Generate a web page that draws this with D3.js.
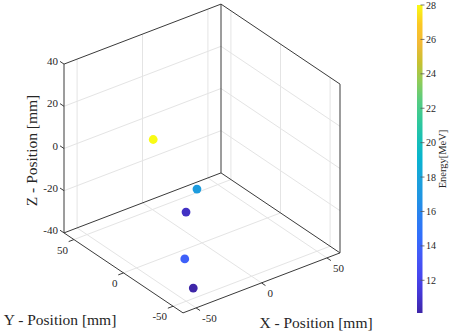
<!DOCTYPE html>
<html lang="en">
<head>
<script src="https://d3js.org/d3.v7.min.js"></script>
<style>body{margin:0;background:#fff} text{font-family:'Liberation Serif','DejaVu Serif',serif}</style>
</head>
<body>
<script>
// hit positions [mm] and deposited energy [MeV]
const xPos = [-10, 6, -16, -20, -37];
const yPos = [36, 13, -5, -9, -40];
const zPos = [0, -20, -20, -40, -40];
const energy = [28, 17.4, 10.8, 13.8, 10.1];

const xTicks = [-50, 0, 50];
const yTicks = [-50, 0, 50];
const zTicks = [-40, -20, 0, 20, 40];
const cbTicks = [12, 14, 16, 18, 20, 22, 24, 26, 28];

// parula (sampled)
const parula = ["#3e26a8","#4537d5","#4748f0","#445af7","#326ffc","#2b7ff0","#2095e3","#1aa2da",
  "#08b4d0","#18bfb6","#32c999","#56cc82","#8ecc5a","#c7c130","#f2b937","#fbc825","#f9fb14"];

const W = 449, H = 334;
const svg = d3.select("body").append("svg")
  .attr("width", W).attr("height", H);

// data -> normalized box coords
const xs = d3.scaleLinear().domain([-60, 60]).range([-1, 1]);
const ys = d3.scaleLinear().domain([-60, 60]).range([-1, 1]);
const zs = d3.scaleLinear().domain([-40, 40]).range([-1, 1]);

// oblique view roughly like view(-37.5,30)
const cx = 202, cy = 158.5;
const AX = [78.5, -30], AY = [-59.5, -40], AZ = [0, -84.4];
function P(x, y, z) {
  const u = xs(x), v = ys(y), w = zs(z);
  return [cx + u * AX[0] + v * AY[0] + w * AZ[0], cy + u * AX[1] + v * AY[1] + w * AZ[1]];
}
function line(g, a, b, col, sw) {
  g.append("line").attr("x1", a[0]).attr("y1", a[1]).attr("x2", b[0]).attr("y2", b[1])
    .attr("stroke", col).attr("stroke-width", sw);
}

const [x0, x1] = xs.domain(), [y0, y1] = ys.domain(), [z0, z1] = zs.domain();

// grid
const grid = svg.append("g");
const gc = "#e4e4e4";
xTicks.forEach(x => { line(grid, P(x, y1, z0), P(x, y1, z1), gc, 1); line(grid, P(x, y0, z0), P(x, y1, z0), gc, 1); });
yTicks.forEach(y => { line(grid, P(x1, y, z0), P(x1, y, z1), gc, 1); line(grid, P(x0, y, z0), P(x1, y, z0), gc, 1); });
zTicks.filter(z => z > z0 && z < z1).forEach(z => {
  line(grid, P(x0, y1, z), P(x1, y1, z), gc, 1);
  line(grid, P(x1, y0, z), P(x1, y1, z), gc, 1);
});

// box
const box = svg.append("g");
const bc = "#3a3a3a";
[[P(x0,y1,z0),P(x1,y1,z0)],[P(x1,y1,z0),P(x1,y1,z1)],[P(x1,y1,z1),P(x0,y1,z1)],[P(x0,y1,z1),P(x0,y1,z0)],
 [P(x1,y0,z0),P(x1,y1,z0)],[P(x1,y0,z0),P(x1,y0,z1)],[P(x1,y0,z1),P(x1,y1,z1)],
 [P(x0,y0,z0),P(x1,y0,z0)],[P(x0,y0,z0),P(x0,y1,z0)]].forEach(e => line(box, e[0], e[1], bc, 1));

// ticks + labels
const tl = 4, fs = 11, tcol = "#262626";
const tk = svg.append("g").attr("font-size", fs).attr("fill", tcol);
zTicks.forEach(z => {
  const p = P(x0, y1, z);
  line(tk, p, P(x0, y1 + tl, z), bc, 1);
  tk.append("text").attr("x", p[0] - 6).attr("y", p[1] + 1).attr("text-anchor", "end").text(z);
});
yTicks.forEach(y => {
  const p = P(x0, y, z0);
  line(tk, p, P(x0 - tl, y, z0), bc, 1);
  tk.append("text").attr("x", p[0] - 6).attr("y", p[1] + 14).attr("text-anchor", "end").text(y);
});
xTicks.forEach(x => {
  const p = P(x, y0, z0);
  line(tk, p, P(x, y0 - tl, z0), bc, 1);
  tk.append("text").attr("x", p[0] + 6).attr("y", p[1] + 14).attr("text-anchor", "start").text(x);
});

// axis titles
const lf = 15.5;
svg.append("text").attr("transform", "translate(37,150.5) rotate(-90)").attr("text-anchor", "middle")
  .attr("font-size", lf).attr("fill", tcol).text("Z - Position [mm]");
svg.append("text").attr("x", 60).attr("y", 325).attr("text-anchor", "middle")
  .attr("font-size", lf).attr("fill", tcol).text("Y - Position [mm]");
svg.append("text").attr("x", 316).attr("y", 328).attr("text-anchor", "middle")
  .attr("font-size", lf).attr("fill", tcol).text("X - Position [mm]");

// colour scale
const ext = d3.extent(energy);
const cmap = d3.scaleLinear()
  .domain(parula.map((_, i) => ext[0] + (ext[1] - ext[0]) * i / (parula.length - 1)))
  .range(parula);

// points
svg.append("g").selectAll("circle")
  .data(energy.map((e, i) => ({x: xPos[i], y: yPos[i], z: zPos[i], e})))
  .join("circle")
  .attr("cx", d => P(d.x, d.y, d.z)[0])
  .attr("cy", d => P(d.x, d.y, d.z)[1])
  .attr("r", 4.4)
  .attr("fill", d => cmap(d.e));

// colorbar
const cbX = 417, cbW = 5.5;
const cbY = d3.scaleLinear().domain(ext).range([313, 5]);
const grad = svg.append("defs").append("linearGradient").attr("id", "cb")
  .attr("x1", 0).attr("y1", 1).attr("x2", 0).attr("y2", 0);
parula.forEach((c, i) => grad.append("stop").attr("offset", i / (parula.length - 1)).attr("stop-color", c));
svg.append("rect").attr("x", cbX).attr("y", cbY(ext[1])).attr("width", cbW)
  .attr("height", cbY(ext[0]) - cbY(ext[1])).attr("fill", "url(#cb)");
const cb = svg.append("g").attr("font-size", 10).attr("fill", tcol);
cbTicks.forEach(t => {
  const y = cbY(t);
  line(cb, [cbX + cbW - 2, y], [cbX + cbW + 2, y], "#555", 0.8);
  cb.append("text").attr("x", 426).attr("y", y + 3.5).text(t);
});
svg.append("text").attr("transform", "translate(445.5,159) rotate(-90)").attr("text-anchor", "middle")
  .attr("font-size", 10.5).attr("fill", tcol).text("Energy[MeV]");
</script>
</body>
</html>
